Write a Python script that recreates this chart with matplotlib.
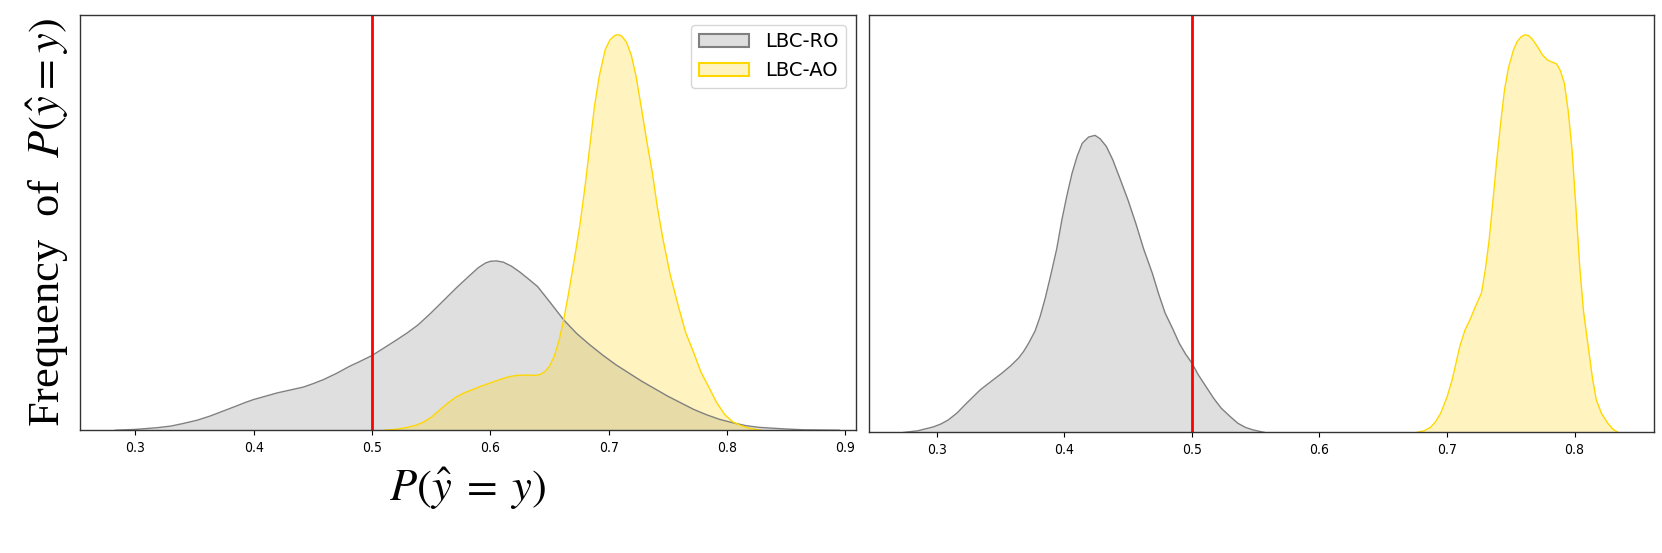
import numpy as np
import matplotlib
matplotlib.use("Agg")
import matplotlib.pyplot as plt
from matplotlib.patches import Patch

plt.rcParams['mathtext.fontset'] = 'stix'

# --- data (density, arbitrary units) ---
# left panel, LBC-RO
ro_left_x = [0.283, 0.300, 0.318, 0.330, 0.340, 0.352, 0.363, 0.374, 0.385, 0.393,
             0.400, 0.410, 0.420, 0.431, 0.442, 0.450, 0.459, 0.470, 0.481, 0.490,
             0.500, 0.510, 0.521, 0.530, 0.539, 0.550, 0.561, 0.572, 0.583, 0.590,
             0.596, 0.600, 0.605, 0.611, 0.618, 0.625, 0.632, 0.640, 0.650, 0.662,
             0.673, 0.684, 0.695, 0.706, 0.717, 0.728, 0.739, 0.750, 0.761, 0.772,
             0.783, 0.794, 0.805, 0.816, 0.827, 0.838, 0.850, 0.865, 0.895]
ro_left_y = [0.000, 0.002, 0.006, 0.010, 0.016, 0.024, 0.034, 0.046, 0.058, 0.067,
             0.074, 0.082, 0.090, 0.097, 0.104, 0.112, 0.122, 0.137, 0.154, 0.166,
             0.180, 0.198, 0.218, 0.235, 0.254, 0.283, 0.314, 0.345, 0.374, 0.392,
             0.403, 0.407, 0.408, 0.405, 0.395, 0.381, 0.365, 0.346, 0.310, 0.266,
             0.233, 0.206, 0.181, 0.158, 0.138, 0.118, 0.100, 0.082, 0.066, 0.050,
             0.037, 0.026, 0.018, 0.011, 0.007, 0.005, 0.003, 0.001, 0.000]
# left panel, LBC-AO
ao_left_x = [0.510, 0.520, 0.530, 0.537, 0.543, 0.550, 0.556, 0.563, 0.570, 0.577,
             0.585, 0.592, 0.600, 0.609, 0.616, 0.622, 0.630, 0.637, 0.642, 0.646,
             0.650, 0.654, 0.658, 0.662, 0.666, 0.671, 0.676, 0.680, 0.684, 0.688,
             0.692, 0.697, 0.701, 0.705, 0.708, 0.711, 0.715, 0.719, 0.723, 0.728,
             0.732, 0.737, 0.741, 0.746, 0.752, 0.759, 0.765, 0.772, 0.778, 0.785,
             0.791, 0.798, 0.805, 0.812, 0.820, 0.829]
ao_left_y = [0.000, 0.002, 0.007, 0.012, 0.019, 0.031, 0.046, 0.063, 0.078, 0.089,
             0.098, 0.106, 0.114, 0.123, 0.129, 0.132, 0.133, 0.132, 0.134, 0.141,
             0.154, 0.178, 0.215, 0.266, 0.328, 0.411, 0.500, 0.587, 0.682, 0.780,
             0.852, 0.916, 0.940, 0.951, 0.953, 0.950, 0.935, 0.905, 0.855, 0.771,
             0.700, 0.619, 0.540, 0.459, 0.375, 0.298, 0.236, 0.186, 0.140, 0.102,
             0.068, 0.038, 0.020, 0.011, 0.004, 0.000]

# right panel, LBC-RO
ro_right_x = [0.274, 0.285, 0.297, 0.303, 0.309, 0.316, 0.322, 0.328, 0.334, 0.342,
              0.351, 0.358, 0.364, 0.368, 0.372, 0.377, 0.381, 0.385, 0.389, 0.394,
              0.398, 0.402, 0.406, 0.410, 0.414, 0.419, 0.424, 0.428, 0.433, 0.438,
              0.443, 0.450, 0.456, 0.462, 0.469, 0.474, 0.479, 0.485, 0.490, 0.495,
              0.500, 0.505, 0.511, 0.517, 0.523, 0.530, 0.536, 0.542, 0.548, 0.557]
ro_right_y = [0.000, 0.004, 0.013, 0.020, 0.030, 0.047, 0.066, 0.084, 0.102, 0.121,
              0.142, 0.160, 0.178, 0.194, 0.214, 0.243, 0.278, 0.322, 0.373, 0.440,
              0.509, 0.568, 0.621, 0.662, 0.693, 0.708, 0.712, 0.704, 0.685, 0.653,
              0.613, 0.556, 0.501, 0.441, 0.381, 0.331, 0.286, 0.248, 0.214, 0.188,
              0.166, 0.138, 0.110, 0.082, 0.058, 0.038, 0.022, 0.012, 0.006, 0.000]
# right panel, LBC-AO
ao_right_x = [0.676, 0.682, 0.687, 0.691, 0.695, 0.700, 0.704, 0.707, 0.710, 0.714,
              0.718, 0.722, 0.727, 0.730, 0.733, 0.736, 0.739, 0.742, 0.745, 0.748,
              0.752, 0.755, 0.758, 0.761, 0.764, 0.767, 0.771, 0.775, 0.779, 0.783,
              0.786, 0.789, 0.792, 0.795, 0.798, 0.801, 0.804, 0.807, 0.811, 0.814,
              0.817, 0.821, 0.826, 0.830, 0.834]
ao_right_y = [0.000, 0.004, 0.012, 0.026, 0.046, 0.085, 0.126, 0.166, 0.206, 0.245,
              0.270, 0.300, 0.334, 0.390, 0.461, 0.555, 0.653, 0.740, 0.820, 0.872,
              0.916, 0.937, 0.948, 0.953, 0.951, 0.942, 0.924, 0.904, 0.892, 0.887,
              0.883, 0.866, 0.836, 0.770, 0.677, 0.540, 0.397, 0.290, 0.198, 0.130,
              0.078, 0.046, 0.022, 0.008, 0.000]

labels = ['LBC-RO', 'LBC-AO']
colors = ['gray', 'gold']
threshold = 0.5

fig = plt.figure(figsize=(16.62, 5.53), dpi=100)
ax1 = fig.add_axes([0.048, 0.222, 0.467, 0.751])
ax2 = fig.add_axes([0.523, 0.218, 0.472, 0.755])

panels = [
    (ax1, [(ro_left_x, ro_left_y), (ao_left_x, ao_left_y)], (0.253, 0.909)),
    (ax2, [(ro_right_x, ro_right_y), (ao_right_x, ao_right_y)], (0.247, 0.862)),
]

for ax, curves, xlim in panels:
    ymax = 0
    for (x, y), c in zip(curves, colors):
        ax.fill_between(x, 0, y, color=c, alpha=0.25, lw=0)
        ax.plot(x, y, color=c, lw=1.0)
        ymax = max(ymax, max(y))
    ax.axvline(threshold, color='red', lw=2)
    ax.set_xlim(*xlim)
    ax.set_ylim(0, ymax * 1.05)
    ax.set_yticks([])
    ax.tick_params(axis='x', labelsize=10, length=3.5, width=0.8, pad=4)
    for t in ax.get_xticklabels():
        t.set_fontstretch('condensed')
    for s in ax.spines.values():
        s.set_color('#333333')
        s.set_linewidth(1.0)

ax1.set_xticks([0.3, 0.4, 0.5, 0.6, 0.7, 0.8, 0.9])
ax2.set_xticks([0.3, 0.4, 0.5, 0.6, 0.7, 0.8])
for ax in (ax1, ax2):
    for t in ax.get_xticklabels():
        t.set_fontstretch('condensed')

handles = [Patch(facecolor=matplotlib.colors.to_rgba(c, 0.25),
                 edgecolor=c, lw=1.5) for c in colors]
ax1.legend(handles, labels, loc='upper right', fontsize=14, handlelength=2.6)

ax1.set_ylabel(r'Frequency  of  $P(\hat{y} = y)$', family='Liberation Serif',
               fontsize=32, labelpad=6)
ax1.set_xlabel(r'$P(\hat{y}\;=\;y)$', fontsize=32, labelpad=8)

fig.savefig('out.png', dpi=100)
